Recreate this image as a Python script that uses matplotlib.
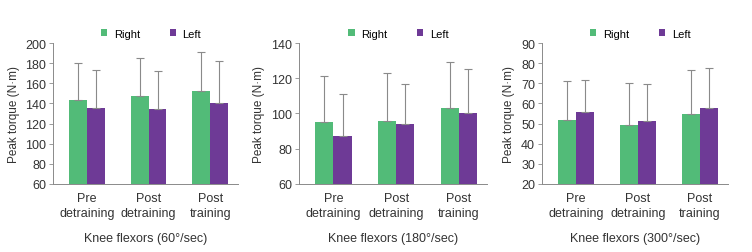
import matplotlib
matplotlib.use("Agg")
import matplotlib.pyplot as plt
import numpy as np

plt.rcParams['font.family'] = ['Liberation Sans', 'DejaVu Sans']

groups = ["Pre\ndetraining", "Post\ndetraining", "Post\ntraining"]
titles = ["Knee flexors (60°/sec)", "Knee flexors (180°/sec)", "Knee flexors (300°/sec)"]

right_60 = [143, 147, 152]
left_60 = [135, 134, 140]
right_60_top = [180, 185, 191]
left_60_top = [173, 172, 182]

right_180 = [95, 96, 103]
left_180 = [87, 94, 100]
right_180_top = [121.5, 123, 129]
left_180_top = [111, 117, 125]

right_300 = [52, 49.5, 54.5]
left_300 = [55.8, 51.5, 57.5]
right_300_top = [71, 70, 76.5]
left_300_top = [71.5, 69.5, 77.5]

ylims = [(60, 200, 20), (60, 140, 20), (20, 90, 10)]
panels = [
    (right_60, left_60, right_60_top, left_60_top),
    (right_180, left_180, right_180_top, left_180_top),
    (right_300, left_300, right_300_top, left_300_top),
]

green = '#52bb78'
purple = '#6e3a96'
grey = '#8a8a8a'
text_c = '#333333'

fig = plt.figure(figsize=(7.52, 2.53), dpi=100)
lefts = [0.0705, 0.3976, 0.7207]
widths = [0.246, 0.25, 0.247]

x = np.arange(len(groups))
w = 0.29
for i, (r, l, rt, lt) in enumerate(panels):
    ax = fig.add_axes([lefts[i], 0.269, widths[i], 0.557])
    lo, hi, step = ylims[i]
    r = np.array(r); l = np.array(l)
    rerr = np.array(rt) - r
    lerr = np.array(lt) - l
    ekw = dict(ecolor=grey, elinewidth=0.8, capsize=3, capthick=0.8)
    ax.bar(x - w / 2, r - lo, w, bottom=lo, color=green, label='Right',
           yerr=[np.zeros(3), rerr], error_kw=ekw, zorder=2)
    ax.bar(x + w / 2, l - lo, w, bottom=lo, color=purple, label='Left',
           yerr=[np.zeros(3), lerr], error_kw=ekw, zorder=2)
    ax.set_ylim(lo, hi)
    ax.set_yticks(np.arange(lo, hi + 1, step))
    ax.set_xlim(-0.55, 2.45)
    ax.set_xticks(x)
    ax.set_xticklabels(groups, fontsize=9, color=text_c, linespacing=1.25)
    ax.tick_params(axis='x', length=0, pad=6)
    ax.tick_params(axis='y', labelsize=9, length=3, width=0.6, direction='out',
                   colors=grey, labelcolor=text_c, pad=2)
    for s in ['top', 'right']:
        ax.spines[s].set_visible(False)
    for s in ['left', 'bottom']:
        ax.spines[s].set_color(grey)
        ax.spines[s].set_linewidth(0.7)
    ax.set_ylabel('Peak torque (N·m)', fontsize=8.5, color=text_c, labelpad=4)
    ax.set_xlabel(titles[i], fontsize=9, color=text_c, labelpad=10)
    ax.legend(loc='lower center', bbox_to_anchor=(0.53, 1.0), ncol=2, frameon=False,
              fontsize=8, handlelength=0.55, handleheight=0.55, columnspacing=2.7,
              handletextpad=0.6, borderaxespad=0.0)

fig.savefig('out.png', dpi=100)
